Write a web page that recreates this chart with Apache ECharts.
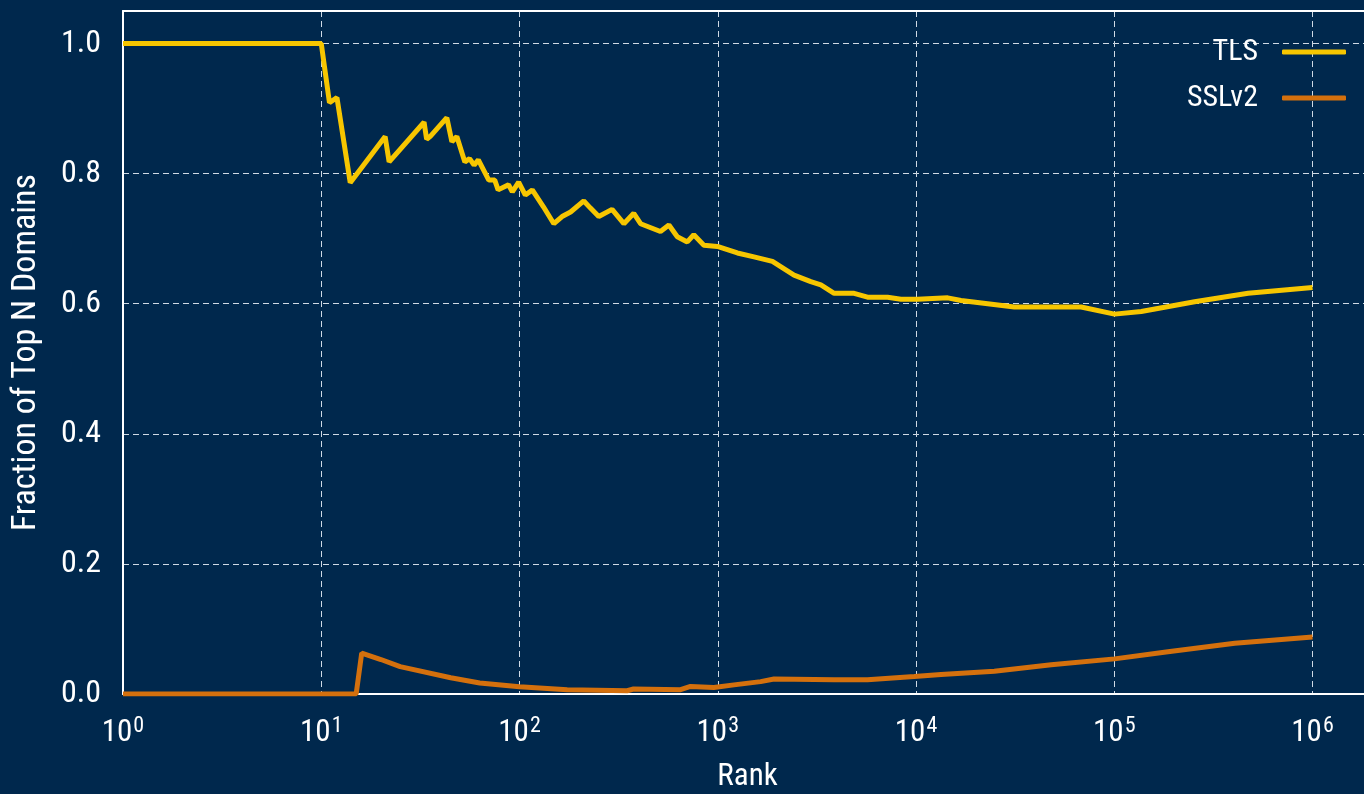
<!DOCTYPE html>
<html>
<head>
<meta charset="utf-8">
<script src="https://cdn.jsdelivr.net/npm/echarts@6/dist/echarts.min.js"></script>
<style>
  html, body { margin: 0; padding: 0; background: #00284d; }
  #chart { width: 1364px; height: 794px; }
</style>
</head>
<body>
<div id="chart"></div>
<script>
// TLS share of top N domains
const tlsRank = [1, 10, 11, 12, 14, 21, 22, 33, 34, 35.4, 43, 45.6, 48.3, 53, 56, 59, 62, 70, 75, 78,
  88, 92, 99, 107, 116, 132, 149, 164, 181, 211, 228, 251, 293, 336, 377, 408, 514, 567, 625, 702,
  757, 851, 995, 1256, 1523, 1887, 2076, 2425, 2946, 3311, 3865, 4875, 5692, 7190, 8395,
  10190, 14450, 16870, 31330, 68080, 100300, 136800, 254300, 473200, 1000000];
const tlsValue = [1.0, 1.0, 0.909, 0.917, 0.786, 0.857, 0.818, 0.879, 0.853, 0.857, 0.886, 0.849, 0.857, 0.818, 0.823,
  0.813, 0.821, 0.790, 0.790, 0.775, 0.783, 0.772, 0.787, 0.767, 0.775, 0.749, 0.723, 0.734, 0.741, 0.758,
  0.747, 0.734, 0.745, 0.723, 0.739, 0.723, 0.711, 0.721, 0.703, 0.695, 0.706, 0.690, 0.688, 0.678, 0.672,
  0.665, 0.657, 0.644, 0.634, 0.629, 0.616, 0.616, 0.610, 0.610, 0.607, 0.607, 0.609, 0.605, 0.595, 0.595,
  0.584, 0.588, 0.603, 0.616, 0.625];

// SSLv2
const sslRank = [1, 15, 16, 20, 25, 45, 63, 100, 174, 349, 376, 649, 729, 955, 1207, 1645, 1922,
  3865, 5692, 9795, 13370, 24830, 48080, 100300, 186600, 405300, 1000000];
const sslValue = [0, 0, 0.063, 0.053, 0.042, 0.025, 0.017, 0.011, 0.0066, 0.005, 0.0077, 0.0066, 0.0117,
  0.010, 0.014, 0.019, 0.023, 0.022, 0.022, 0.027, 0.030, 0.035, 0.045, 0.054, 0.065, 0.078, 0.0876];

const yTicks = [0, 0.2, 0.4, 0.6, 0.8, 1.0];

const font = "'Roboto Condensed', 'Liberation Sans Narrow', 'DejaVu Sans Condensed', Roboto, sans-serif";
const white = '#ffffff';
const gridColor = '#cfd9e4';
const xMax = 1995262; // 10^6.3, the frame's right edge sits just past the window

const pairs = (xs, ys) => xs.map((x, i) => [x, ys[i]]);

const chart = echarts.init(document.getElementById('chart'));

chart.setOption({
  animation: false,
  backgroundColor: '#00284d',
  grid: {
    left: 123,
    top: 11,
    right: -8,
    height: 683,
    containLabel: false,
    outerBoundsMode: 'none'
  },
  legend: {
    orient: 'vertical',
    right: 18,
    top: 37,
    padding: 0,
    align: 'right',
    icon: 'roundRect',
    itemWidth: 64,
    itemHeight: 5,
    itemGap: 16,
    textStyle: { color: white, fontSize: 30, fontFamily: font, lineHeight: 30, padding: [0, 19, 0, 0] },
    data: ['TLS', 'SSLv2']
  },
  xAxis: [
    {
      type: 'log',
      logBase: 10,
      min: 1,
      max: xMax,
      name: 'Rank',
      nameLocation: 'middle',
      nameGap: 68,
      nameTextStyle: { color: white, fontSize: 31, fontFamily: font },
      axisLine: { show: true, onZero: false, lineStyle: { color: white, width: 2 } },
      axisTick: { show: false },
      minorTick: { show: false },
      axisLabel: {
        margin: 21,
        formatter: v => {
          const e = Math.log10(v);
          const r = Math.round(e);
          if (Math.abs(e - r) > 0.01) return '';
          return '{b|10}{s|' + r + '}';
        },
        rich: {
          b: { color: white, fontSize: 31, fontFamily: font },
          s: { color: white, fontSize: 22, fontFamily: font, padding: [0, 0, 15, 1] }
        }
      },
      splitLine: { show: true, lineStyle: { color: gridColor, type: [6, 4], width: 1 } }
    },
    {
      // top frame line
      type: 'log',
      logBase: 10,
      min: 1,
      max: xMax,
      position: 'top',
      axisLine: { show: true, onZero: false, lineStyle: { color: white, width: 2 } },
      axisTick: { show: false },
      axisLabel: { show: false },
      splitLine: { show: false }
    }
  ],
  yAxis: {
    type: 'value',
    min: 0,
    max: 1.05,
    interval: 0.2,
    name: 'Fraction of Top N Domains',
    nameLocation: 'middle',
    nameGap: 80,
    nameTextStyle: { color: white, fontSize: 34, fontFamily: font },
    axisLine: { show: true, lineStyle: { color: white, width: 2 } },
    axisTick: { show: false },
    axisLabel: {
      color: white,
      fontSize: 32,
      fontFamily: font,
      margin: 22,
      showMaxLabel: false,
      formatter: v => (yTicks.some(t => Math.abs(t - v) < 1e-6) ? v.toFixed(1) : '')
    },
    splitLine: { show: true, lineStyle: { color: gridColor, type: [6, 4], width: 1 } }
  },
  series: [
    {
      name: 'TLS',
      type: 'line',
      data: pairs(tlsRank, tlsValue),
      showSymbol: false,
      color: '#f7c600',
      lineStyle: { color: '#f7c600', width: 5 }
    },
    {
      name: 'SSLv2',
      type: 'line',
      data: pairs(sslRank, sslValue),
      showSymbol: false,
      color: '#d4700d',
      lineStyle: { color: '#d4700d', width: 5 }
    }
  ]
});
</script>
</body>
</html>
